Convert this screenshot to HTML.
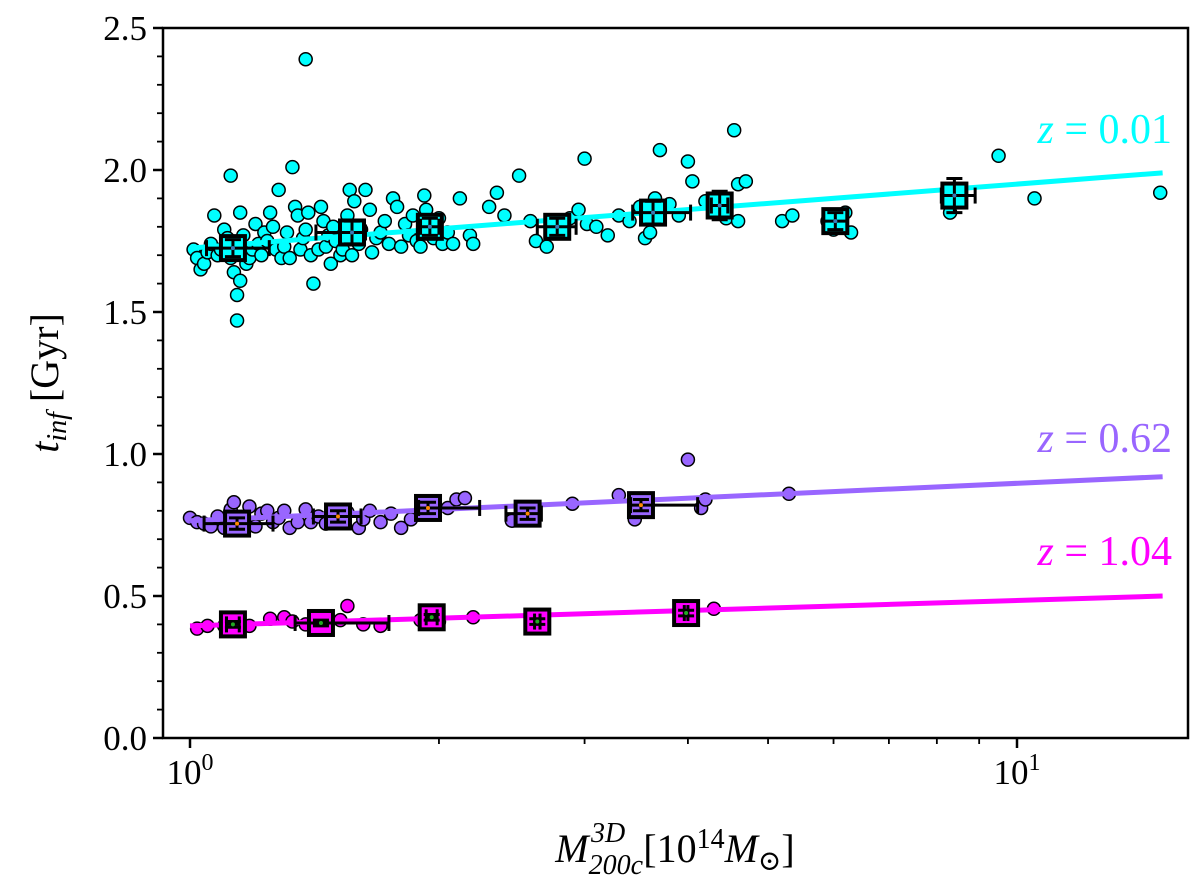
<!DOCTYPE html>
<html><head><meta charset="utf-8"><style>
body{margin:0;background:#fff}
svg{display:block;font-family:"Liberation Serif","DejaVu Serif",serif}
</style></head><body>
<svg id="chart" width="1200" height="880" xmlns="http://www.w3.org/2000/svg">
<g id="plot"></g>
</svg>
<script>
const cyanPts=[[1.01,1.72],[1.02,1.69],[1.03,1.65],[1.04,1.67],[1.05,1.71],[1.06,1.74],[1.07,1.84],[1.08,1.70],[1.09,1.72],[1.10,1.79],[1.11,1.76],[1.12,1.98],[1.12,1.69],[1.13,1.64],[1.14,1.47],[1.14,1.56],[1.15,1.61],[1.15,1.85],[1.16,1.77],[1.17,1.67],[1.18,1.69],[1.19,1.72],[1.20,1.81],[1.21,1.74],[1.22,1.70],[1.23,1.78],[1.24,1.75],[1.25,1.85],[1.26,1.80],[1.27,1.72],[1.28,1.93],[1.29,1.69],[1.30,1.73],[1.31,1.78],[1.32,1.69],[1.33,2.01],[1.34,1.87],[1.35,1.84],[1.36,1.72],[1.37,1.76],[1.38,1.79],[1.38,2.39],[1.39,1.85],[1.40,1.70],[1.41,1.60],[1.43,1.72],[1.44,1.87],[1.45,1.82],[1.46,1.73],[1.47,1.77],[1.48,1.67],[1.49,1.80],[1.50,1.75],[1.52,1.70],[1.53,1.72],[1.55,1.84],[1.56,1.93],[1.57,1.70],[1.58,1.89],[1.60,1.74],[1.61,1.79],[1.63,1.93],[1.65,1.86],[1.66,1.71],[1.68,1.76],[1.70,1.78],[1.72,1.82],[1.74,1.74],[1.76,1.90],[1.78,1.87],[1.80,1.73],[1.82,1.81],[1.84,1.77],[1.86,1.84],[1.88,1.75],[1.90,1.73],[1.92,1.91],[1.93,1.86],[1.95,1.81],[1.97,1.76],[2.00,1.83],[2.02,1.74],[2.05,1.78],[2.08,1.74],[2.12,1.90],[2.18,1.77],[2.20,1.74],[2.3,1.87],[2.35,1.92],[2.4,1.84],[2.5,1.98],[2.58,1.82],[2.62,1.75],[2.7,1.73],[2.75,1.79],[2.8,1.80],[2.88,1.83],[2.95,1.86],[3.0,2.04],[3.02,1.81],[3.1,1.80],[3.2,1.77],[3.3,1.84],[3.4,1.82],[3.5,1.87],[3.55,1.76],[3.6,1.78],[3.65,1.90],[3.7,2.07],[3.8,1.88],[3.9,1.84],[4.0,2.03],[4.05,1.96],[4.2,1.89],[4.35,1.85],[4.45,1.83],[4.55,2.14],[4.6,1.95],[4.6,1.82],[4.7,1.96],[5.2,1.82],[5.35,1.84],[5.9,1.82],[6.0,1.79],[6.1,1.81],[6.2,1.85],[6.3,1.78],[8.3,1.85],[8.5,1.89],[9.5,2.05],[10.5,1.90],[14.9,1.92]];
const purplePts=[[1.0,0.775],[1.02,0.76],[1.04,0.755],[1.06,0.745],[1.08,0.78],[1.10,0.74],[1.12,0.805],[1.13,0.83],[1.15,0.755],[1.16,0.77],[1.18,0.815],[1.20,0.745],[1.22,0.79],[1.24,0.80],[1.26,0.76],[1.28,0.775],[1.30,0.80],[1.32,0.74],[1.35,0.76],[1.38,0.805],[1.40,0.76],[1.43,0.78],[1.46,0.755],[1.50,0.79],[1.52,0.76],[1.55,0.795],[1.60,0.74],[1.62,0.77],[1.65,0.80],[1.70,0.76],[1.75,0.79],[1.80,0.74],[1.85,0.77],[1.90,0.80],[1.95,0.79],[2.05,0.81],[2.1,0.84],[2.15,0.845],[2.45,0.765],[2.6,0.81],[2.9,0.825],[3.3,0.855],[3.45,0.77],[4.0,0.98],[4.15,0.81],[4.2,0.84],[5.3,0.86]];
const magentaPts=[[1.02,0.385],[1.05,0.395],[1.1,0.395],[1.18,0.395],[1.25,0.42],[1.3,0.425],[1.33,0.41],[1.38,0.40],[1.52,0.415],[1.55,0.465],[1.62,0.40],[1.7,0.395],[1.9,0.415],[2.0,0.41],[2.2,0.425],[4.3,0.455]];
// binned: [mass, t, xerrLow, xerrHigh, yerr]
const cyanBins=[[1.127,1.725,0.08,0.12,0.03],[1.57,1.78,0.15,0.06,0.04],[1.95,1.80,0.05,0.05,0.03],[2.78,1.80,0.15,0.15,0.03],[3.63,1.85,0.2,0.4,0.04],[4.37,1.875,0.1,0.1,0.05],[6.03,1.82,0.2,0.2,0.03],[8.4,1.91,0.3,0.5,0.06]];
const purpleBins=[[1.14,0.755,0.1,0.12,0.02],[1.51,0.78,0.1,0.1,0.02],[1.94,0.81,0.05,0.3,0.02],[2.56,0.79,0.15,0.1,0.02],[3.51,0.82,0.1,0.6,0.02]];
const magentaBins=[[1.127,0.40,0.02,0.02,0.01],[1.44,0.405,0.1,0.3,0.01],[1.96,0.425,0.03,0.03,0.01],[2.63,0.41,0.02,0.02,0.01],[3.98,0.44,0.02,0.02,0.01]];
const fitStart=[1.725,0.765,0.395];
const fitEnd=[1.99,0.92,0.50];
const yTicks=[0.0,0.5,1.0,1.5,2.0,2.5];
const yTickLabels=["0.0","0.5","1.0","1.5","2.0","2.5"];
const seriesLabels=["z = 0.01","z = 0.62","z = 1.04"];

const X0=163,X1=1188,Y0=28,Y1=738;
const xs=m=>190+827*Math.log10(m);
const ys=t=>738-284*t;
const NS="http://www.w3.org/2000/svg";
const g=document.getElementById('plot');
function mk(tag,at,parent){const e=document.createElementNS(NS,tag);for(const k in at)e.setAttribute(k,at[k]);(parent||g).appendChild(e);return e;}

const colors=["#00ffff","#9966ff","#ff00ff"];
const inner=["#3a7ab8","#ff8800","#22aa22"];
const pts=[cyanPts,purplePts,magentaPts];
const bins=[cyanBins,purpleBins,magentaBins];
const names=["cyan","purple","magenta"];
const labelY=[143,452,565];

for(let s=0;s<3;s++){
  const sg=mk('g',{});
  
  
  pts[s].forEach(p=>{
    const c=mk('circle',{cx:xs(p[0]),cy:ys(p[1]),r:6.5,fill:colors[s],stroke:'#000','stroke-width':1.5},sg);
    
    
  });
  const ln=mk('line',{x1:xs(1),y1:ys(fitStart[s]),x2:xs(15),y2:ys(fitEnd[s]),stroke:colors[s],'stroke-width':5},sg);
  
  
  bins[s].forEach(b=>{
    const bg=mk('g',{},sg);
    
    
    const cx=xs(b[0]),cy=ys(b[1]);
    mk('rect',{x:cx-12,y:cy-12,width:24,height:24,fill:colors[s],stroke:'#000','stroke-width':4},bg);
    const xl=xs(b[0]-b[2]),xr=xs(b[0]+b[3]),yt=ys(b[1]+b[4]),yb=ys(b[1]-b[4]);
    mk('line',{x1:xl,y1:cy,x2:xr,y2:cy,stroke:'#000','stroke-width':3},bg);
    mk('line',{x1:xl,y1:cy-8,x2:xl,y2:cy+8,stroke:'#000','stroke-width':3},bg);
    mk('line',{x1:xr,y1:cy-8,x2:xr,y2:cy+8,stroke:'#000','stroke-width':3},bg);
    mk('line',{x1:cx,y1:yt,x2:cx,y2:yb,stroke:'#000','stroke-width':3},bg);
    mk('line',{x1:cx-8,y1:yt,x2:cx+8,y2:yt,stroke:'#000','stroke-width':3},bg);
    mk('line',{x1:cx-8,y1:yb,x2:cx+8,y2:yb,stroke:'#000','stroke-width':3},bg);
    mk('circle',{cx:cx,cy:cy,r:2,fill:inner[s]},bg);
  });
  const t=mk('text',{x:1172,y:labelY[s],'text-anchor':'end','font-size':42,fill:colors[s]},sg);
  t.innerHTML='<tspan font-style="italic">z</tspan> = '+seriesLabels[s].split('= ')[1];
  
  
}

const fr=mk('rect',{x:X0,y:Y0,width:X1-X0,height:Y1-Y0,fill:'none',stroke:'#000','stroke-width':2.5});


yTicks.forEach((v,i)=>{
  const y=ys(v);
  mk('line',{x1:X0-10,y1:y,x2:X0,y2:y,stroke:'#000','stroke-width':2.5});
  const t=mk('text',{x:X0-16,y:y+12,'text-anchor':'end','font-size':35});
  t.textContent=yTickLabels[i];
  
  
});
for(let k=1;k<25;k++){
  if(k%5===0)continue;
  mk('line',{x1:X0-6,y1:ys(k/10),x2:X0,y2:ys(k/10),stroke:'#000','stroke-width':1.8});
}
[1,10].forEach((m,i)=>{
  const x=xs(m);
  mk('line',{x1:x,y1:Y1,x2:x,y2:Y1+10,stroke:'#000','stroke-width':2.5});
  const t=mk('text',{x:x,y:Y1+46,'text-anchor':'middle','font-size':35});
  t.innerHTML=i==0?'10<tspan dy="-14" font-size="24">0</tspan>':'10<tspan dy="-14" font-size="24">1</tspan>';
  
  
});
[2,3,4,5,6,7,8,9].forEach(m=>{
  mk('line',{x1:xs(m),y1:Y1,x2:xs(m),y2:Y1+6,stroke:'#000','stroke-width':1.8});
});
const xl=mk('text',{x:675,y:862,'text-anchor':'middle','font-size':40});
xl.innerHTML='<tspan font-style="italic">M</tspan><tspan dy="12" font-size="28" font-style="italic">200c</tspan><tspan dy="-32" dx="-52" font-size="28" font-style="italic">3D</tspan><tspan dy="20" dx="18">[10</tspan><tspan dy="-14" font-size="28">14</tspan><tspan dy="14" font-style="italic">M</tspan><tspan dy="8" font-size="28">⊙</tspan><tspan dy="-8">]</tspan>';


const yl=mk('text',{transform:'translate(58,383) rotate(-90)','text-anchor':'middle','font-size':40});
yl.innerHTML='<tspan font-style="italic">t</tspan><tspan dy="8" font-size="28" font-style="italic">inf</tspan><tspan dy="-8"> [Gyr]</tspan>';


</script>
</body></html>
